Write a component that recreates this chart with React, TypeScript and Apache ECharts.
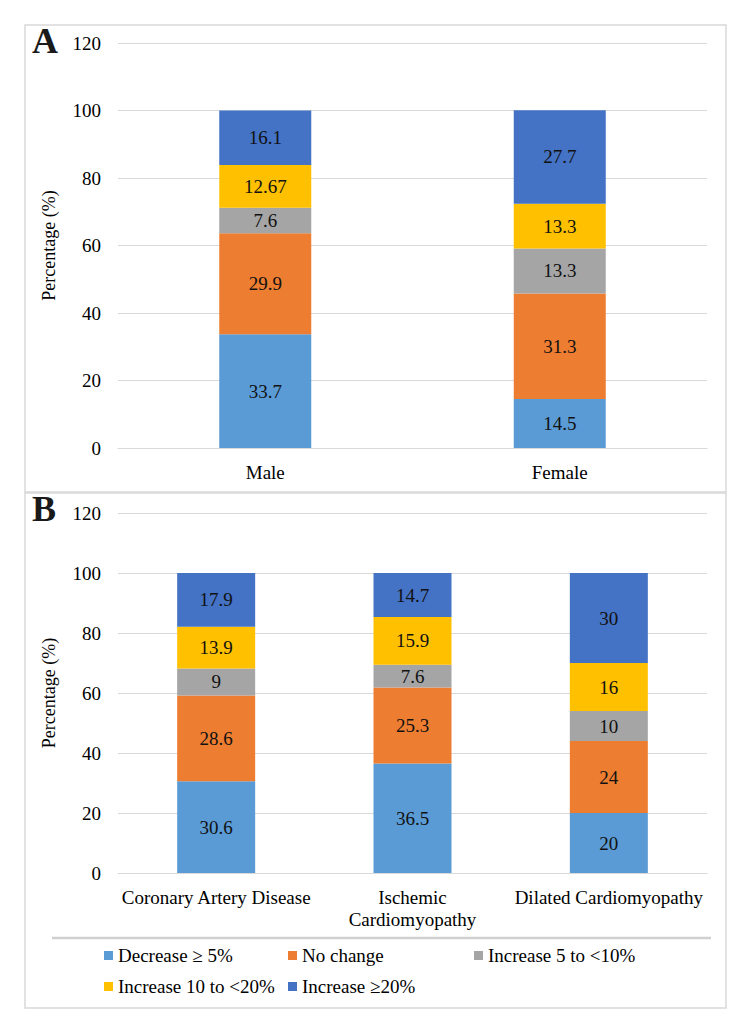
import React, { useEffect, useRef } from "react";
import * as echarts from "echarts";

// Categories for each panel
const sexCategories = ["Male", "Female"];
const diseaseCategories = [
  "Coronary Artery Disease",
  "Ischemic\nCardiomyopathy",
  "Dilated Cardiomyopathy",
];

// Response groups (stack order bottom to top)
const groupNames = [
  "Decrease ≥ 5%",
  "No change",
  "Increase 5 to <10%",
  "Increase 10 to <20%",
  "Increase ≥20%",
];
const groupColors = ["#5B9BD5", "#ED7D31", "#A5A5A5", "#FFC000", "#4472C4"];

// Panel A values (Male, Female) per group
const sexDecrease = [33.7, 14.5];
const sexNoChange = [29.9, 31.3];
const sexInc5to10 = [7.6, 13.3];
const sexInc10to20 = [12.67, 13.3];
const sexInc20 = [16.1, 27.7];

// Panel B values (CAD, ICM, DCM) per group
const disDecrease = [30.6, 36.5, 20];
const disNoChange = [28.6, 25.3, 24];
const disInc5to10 = [9, 7.6, 10];
const disInc10to20 = [13.9, 15.9, 16];
const disInc20 = [17.9, 14.7, 30];

const yTicks = { min: 0, max: 120, interval: 20 };

const FONT = "Liberation Serif";
const GRID_COLOR = "#d9d9d9";

export default function App() {
  const ref = useRef<HTMLDivElement>(null);

  useEffect(() => {
    document.body.style.margin = "0";
    if (!ref.current) return;
    const chart = echarts.init(ref.current, undefined, { renderer: "svg" });

    const sexData = [sexDecrease, sexNoChange, sexInc5to10, sexInc10to20, sexInc20];
    const disData = [disDecrease, disNoChange, disInc5to10, disInc10to20, disInc20];

    const label = {
      show: true,
      position: "inside",
      color: "#111",
      fontSize: 19,
      fontFamily: FONT,
    };

    const series: any[] = [];
    groupNames.forEach((name, i) => {
      series.push({
        name,
        type: "bar",
        stack: "sex",
        xAxisIndex: 0,
        yAxisIndex: 0,
        barWidth: 92,
        itemStyle: { color: groupColors[i] },
        label,
        data: sexData[i],
      });
      series.push({
        name,
        type: "bar",
        stack: "disease",
        xAxisIndex: 1,
        yAxisIndex: 1,
        barWidth: 78,
        itemStyle: { color: groupColors[i] },
        label,
        data: disData[i],
      });
    });

    // Legend laid out as a two-row grid under panel B
    const legendPos = [
      { left: 104, top: 946 },
      { left: 288, top: 946 },
      { left: 474, top: 946 },
      { left: 104, top: 977 },
      { left: 288, top: 977 },
    ];

    const legends = groupNames.map((name, i) => ({
      data: [name],
      left: legendPos[i].left,
      top: legendPos[i].top,
      padding: 0,
      icon: "rect",
      itemWidth: 9,
      itemHeight: 9,
      selectedMode: false,
      textStyle: { fontSize: 19, color: "#000", fontFamily: FONT },
    }));

    const yAxisBase = {
      type: "value",
      ...yTicks,
      name: "Percentage (%)",
      nameLocation: "middle",
      nameGap: 60,
      nameTextStyle: { fontSize: 18, color: "#000", fontFamily: FONT },
      axisLine: { show: false },
      axisTick: { show: false },
      axisLabel: { fontSize: 19, color: "#000", fontFamily: FONT, margin: 17 },
      splitLine: { lineStyle: { color: GRID_COLOR, width: 1 } },
    };

    const xAxisBase = {
      type: "category",
      axisLine: { lineStyle: { color: GRID_COLOR, width: 1 } },
      axisTick: { show: false },
      axisLabel: {
        fontSize: 19,
        color: "#000",
        fontFamily: FONT,
        margin: 13,
        lineHeight: 22,
        interval: 0,
      },
    };

    chart.setOption({
      animation: false,
      backgroundColor: "#fff",
      grid: [
        { left: 118, width: 589, top: 43, height: 405 },
        { left: 118, width: 589, top: 513, height: 360 },
      ],
      xAxis: [
        { ...xAxisBase, gridIndex: 0, data: sexCategories },
        { ...xAxisBase, gridIndex: 1, data: diseaseCategories },
      ],
      yAxis: [
        { ...yAxisBase, gridIndex: 0 },
        { ...yAxisBase, gridIndex: 1 },
      ],
      legend: legends,
      series,
      graphic: [
        {
          type: "rect",
          shape: { x: 25, y: 25, width: 701, height: 467 },
          style: { fill: "none", stroke: GRID_COLOR, lineWidth: 1.5 },
          silent: true,
        },
        {
          type: "rect",
          shape: { x: 25, y: 493, width: 701, height: 515 },
          style: { fill: "none", stroke: GRID_COLOR, lineWidth: 1.5 },
          silent: true,
        },
        {
          type: "line",
          shape: { x1: 52, y1: 938, x2: 711, y2: 938 },
          style: { stroke: "#d0d0d0", lineWidth: 2.5 },
          silent: true,
        },
        {
          type: "text",
          x: 32,
          y: 41,
          style: {
            text: "A",
            fontSize: 36,
            fontWeight: "bold",
            fontFamily: FONT,
            fill: "#1a1a1a",
            verticalAlign: "middle",
          },
        },
        {
          type: "text",
          x: 32,
          y: 509,
          style: {
            text: "B",
            fontSize: 36,
            fontWeight: "bold",
            fontFamily: FONT,
            fill: "#1a1a1a",
            verticalAlign: "middle",
          },
        },
      ],
    });

    return () => chart.dispose();
  }, []);

  return <div ref={ref} style={{ width: 750, height: 1034 }} />;
}
